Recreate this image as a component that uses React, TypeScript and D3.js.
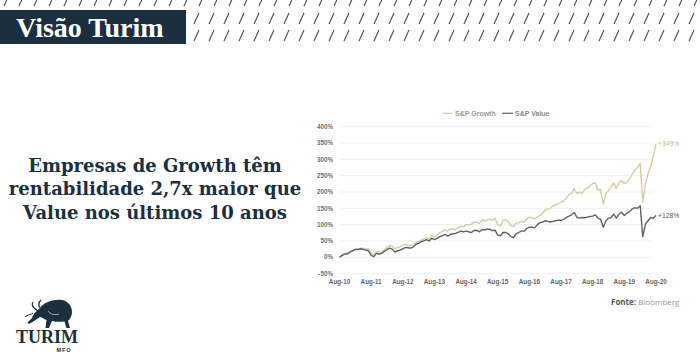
import React from "react";
import * as d3 from "d3";

// monthly cumulative returns (%), Aug-10 .. Aug-20
const growthValues = [
  0, 8, 12, 13, 18,
  21, 25, 24, 28, 27, 24, 27, 12, 8, 18, 16, 17,
  24, 31, 36, 34, 26, 30, 32, 36, 40, 36, 37, 38,
  45, 48, 53, 56, 60, 56, 65, 62, 68, 75, 79, 84,
  80, 88, 86, 85, 91, 95, 94, 100, 99, 101, 108, 107,
  104, 114, 112, 114, 117, 114, 119, 100, 96, 113, 114, 110,
  97, 94, 105, 106, 110, 108, 118, 122, 121, 117, 124, 128,
  135, 145, 148, 150, 158, 160, 165, 168, 172, 182, 192, 196,
  210, 195, 200, 195, 208, 212, 218, 226, 228, 205, 208, 163,
  195, 205, 215, 228, 210, 228, 236, 226, 230, 240, 255, 267,
  275, 288, 170, 225, 255, 280, 310, 349,
];

const valueValues = [
  0, 6, 10, 10, 16,
  20, 24, 24, 26, 24, 22, 20, 6, 2, 12, 10, 12,
  18, 24, 28, 25, 16, 20, 22, 26, 30, 29, 28, 32,
  40, 43, 48, 50, 54, 50, 58, 54, 58, 63, 66, 70,
  65, 70, 72, 73, 76, 80, 78, 80, 78, 76, 82, 83,
  78, 85, 84, 86, 86, 82, 83, 68, 66, 76, 76, 72,
  63, 60, 72, 76, 80, 80, 88, 92, 92, 90, 100, 106,
  108, 112, 110, 108, 110, 112, 114, 113, 116, 122, 126, 130,
  137, 122, 120, 122, 121, 123, 125, 126, 130, 120, 116, 92,
  112, 120, 122, 132, 120, 132, 138, 128, 136, 140, 148, 152,
  150, 158, 63, 102, 112, 122, 120, 128,
];

const seriesNames = ["S&P Growth", "S&P Value"];
const endLabels = ["+349%", "+128%"];
const yTicks = [-50, 0, 50, 100, 150, 200, 250, 300, 350, 400];
const xTickLabels = ["Aug-10", "Aug-11", "Aug-12", "Aug-13", "Aug-14", "Aug-15", "Aug-16", "Aug-17", "Aug-18", "Aug-19", "Aug-20"];
const headline = ["Empresas de Growth têm", "rentabilidade 2,7x maior que", "Value nos últimos 10 anos"];

const NAVY = "#1b2f40";
const GROWTH = "#d8caa6";
const VALUE = "#616161";

const start = new Date(2010, 7, 1);
const monthOf = (i: number) => d3.timeMonth.offset(start, i);

const x = d3.scaleTime().domain([start, new Date(2020, 7, 1)]).range([339.5, 656]);
const y = d3.scaleLinear().domain([-50, 400]).range([273.6, 126.7]);

const line = d3
  .line<number>()
  .x((d, i) => x(monthOf(i)))
  .y(d => y(d));

const Hatch = () => {
  const rows = [
    { y0: -5, x0: 0 },
    { y0: 13, x0: 190 },
    { y0: 30, x0: 190 },
  ];
  const out: JSX.Element[] = [];
  rows.forEach((r, ri) => {
    for (let xx = r.x0 + 4; xx < 705; xx += 15) {
      out.push(
        <line key={ri + "-" + xx} x1={xx} y1={r.y0 + 11} x2={xx + 5} y2={r.y0} stroke="#4a4a4a" strokeWidth={1.1} />
      );
    }
  });
  return <g>{out}</g>;
};

const App = () => {
  const series = [growthValues, valueValues];
  const colors = [GROWTH, VALUE];
  const lastIdx = growthValues.length - 1;

  return (
    <svg width={700} height={360} style={{ position: "absolute", left: 0, top: 0, background: "#fff" }}>
      <rect width={700} height={360} fill="#fff" />
      <Hatch />
      <rect x={0} y={10} width={186} height={34} fill={NAVY} />
      <text x={16} y={37} fill="#fff" fontFamily="Liberation Serif" fontWeight="bold" fontSize={28}>
        Visão Turim
      </text>

      {headline.map((t, i) => (
        <text key={t} x={155} y={172 + i * 23.3} textAnchor="middle" fill={NAVY}
          fontFamily="DejaVu Serif" fontWeight="bold" fontSize={18}>
          {t}
        </text>
      ))}

      {/* chart */}
      <g fontFamily="Liberation Sans" fontWeight="bold">
        {yTicks.map(t => (
          <g key={t}>
            <line x1={340} x2={653} y1={y(t)} y2={y(t)} stroke="#ececec" strokeWidth={0.8} />
            <text x={333} y={y(t) + 2.2} textAnchor="end" fontSize={6.3} fill="#707070">
              {t + "%"}
            </text>
          </g>
        ))}
        {xTickLabels.map((t, i) => (
          <text key={t} x={x(new Date(2010 + i, 7, 1))} y={284} textAnchor="middle" fontSize={6.3} fill="#666">
            {t}
          </text>
        ))}

        {series.map((s, i) => (
          <path key={i} d={line(s) || ""} fill="none" stroke={colors[i]} strokeWidth={1.4} strokeLinejoin="round" />
        ))}
        {series.map((s, i) => (
          <text key={i} x={x(monthOf(lastIdx)) + 2} y={y(s[lastIdx]) + 2.3} fontSize={6.8} fontWeight="normal"
            fill={i === 0 ? "#cbb88a" : "#555"}>
            {endLabels[i]}
          </text>
        ))}

        {/* legend */}
        <line x1={443} x2={453} y1={113.3} y2={113.3} stroke={GROWTH} strokeWidth={1.2} />
        <text x={455} y={115.8} fontSize={7} fill="#9a9a9a">{seriesNames[0]}</text>
        <line x1={502} x2={513} y1={113.3} y2={113.3} stroke={VALUE} strokeWidth={1.2} />
        <text x={515} y={115.8} fontSize={7} fill="#8a8a8a">{seriesNames[1]}</text>
      </g>

      <text x={611} y={305} fontFamily="Open Sans" fontSize={8}>
        <tspan fill="#555" fontWeight="bold">Fonte:</tspan>
        <tspan fill="#999"> Bloomberg</tspan>
      </text>

      {/* logo */}
      <g transform="translate(24,299)" fill={NAVY}>
        <path d="M16,9 C20,3 30,0 38,1 C44,2 48,7 48,13 C48,17 46,20 44,22 L46,29 L42.5,29 L40.5,22.5 C36,23 31,23 28,22 L25,29 L21.5,29 L22.5,21 C20,20 18,18.5 16,18 L10,22 L5,25 L3.5,23.5 L8,19 C9,15 12,12 16,9 Z" />
        <path d="M13,11 C9,9 7,6 9,3" fill="none" stroke={NAVY} strokeWidth={1.3} />
        <path d="M16,9 C14,6 15,3 17,1" fill="none" stroke={NAVY} strokeWidth={1.3} />
        <path d="M1,18 C4,15 7,16 9,14" fill="none" stroke={NAVY} strokeWidth={1} />
        <path d="M24,12 C27,16 31,16 35,15" fill="none" stroke="#fff" strokeWidth={0.6} />
      </g>
      <text x={47} y={343} textAnchor="middle" fontFamily="Liberation Serif" fontWeight="bold" fontSize={18} fill={NAVY}>
        TURIM
      </text>
      <text x={64} y={352} textAnchor="middle" fontFamily="Liberation Sans" fontWeight="bold" fontSize={5.5}
        letterSpacing={1} fill={NAVY}>
        MFO
      </text>
    </svg>
  );
};

export default App;
